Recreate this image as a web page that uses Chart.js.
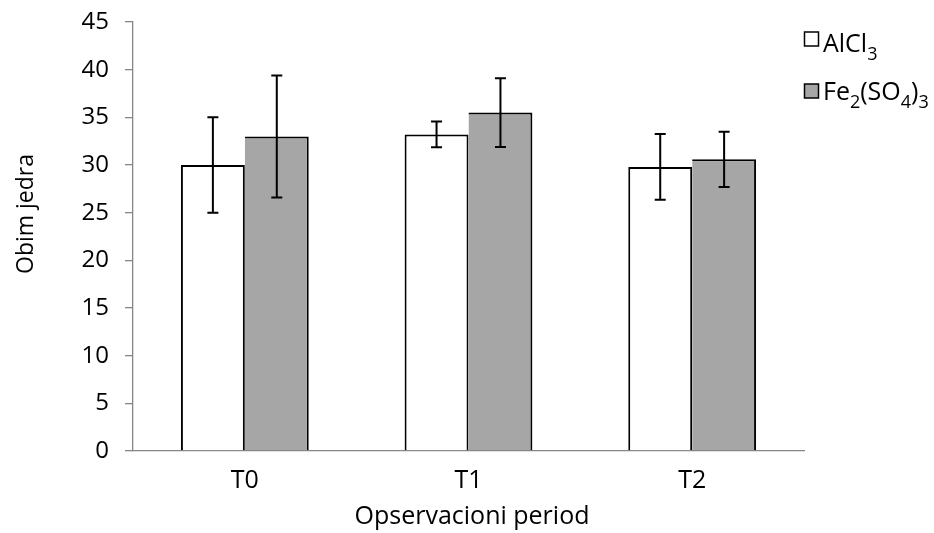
<!DOCTYPE html>
<html>
<head>
<meta charset="utf-8">
<script src="https://cdn.jsdelivr.net/npm/chart.js@4.4.1/dist/chart.umd.min.js"></script>
<style>
html, body { margin: 0; padding: 0; background: #fff; }
</style>
</head>
<body>
<canvas id="barChart" width="934" height="533"></canvas>
<script>
/** datos */
const categories = ["T0", "T1", "T2"];
const seriesNames = ["AlCl{3}", "Fe{2}(SO{4}){3}"];
const alcl3 = [30.0, 33.2, 29.8];
const alcl3_err = [5.0, 1.35, 3.45];
const fe2so43 = [33.0, 35.5, 30.6];
const fe2so43_err = [6.4, 3.6, 2.9];
const y_min = 0, y_max = 45, y_step = 5;
const y_title = "Obim jedra";
const x_title = "Opservacioni period";

const FONT = '"Open Sans", "DejaVu Sans", sans-serif';
const AXIS_GRAY = "#868686";

/** texto con subindices: lo que va entre llaves baja */
function drawRich(ctx, str, x, y, size) {
  let parts = str.split(/(\{[^}]*\})/).filter(p => p.length);
  parts.forEach(function (p) {
    let sub = p[0] === "{";
    let t = sub ? p.slice(1, -1) : p;
    ctx.font = (sub ? Math.round(size * 0.7) : size) + "px " + FONT;
    ctx.fillText(t, x, sub ? y + size * 0.32 : y);
    x += ctx.measureText(t).width;
  });
}

/** barras de error */
const errorBars = {
  id: "errorBars",
  afterDatasetsDraw: function (chart) {
    const ctx = chart.ctx;
    const yScale = chart.scales.y;
    chart.data.datasets.forEach(function (dataset, i) {
      const meta = chart.getDatasetMeta(i);
      meta.data.forEach(function (bar, j) {
        const top = yScale.getPixelForValue(dataset.data[j] + dataset.errors[j]);
        const bot = yScale.getPixelForValue(dataset.data[j] - dataset.errors[j]);
        ctx.save();
        ctx.strokeStyle = "#000";
        ctx.lineWidth = 2;
        ctx.beginPath();
        ctx.moveTo(bar.x, top); ctx.lineTo(bar.x, bot);
        ctx.moveTo(bar.x - 5.5, top); ctx.lineTo(bar.x + 5.5, top);
        ctx.moveTo(bar.x - 5.5, bot); ctx.lineTo(bar.x + 5.5, bot);
        ctx.stroke();
        ctx.restore();
      });
    });
  }
};

/** titulos de ejes y leyenda */
const extras = {
  id: "extras",
  afterDraw: function (chart) {
    const ctx = chart.ctx;
    ctx.save();
    ctx.fillStyle = "#000";
    ctx.textBaseline = "alphabetic";

    ctx.textAlign = "center";
    ctx.font = "25px " + FONT;
    ctx.fillText(x_title, 472, 524);

    ctx.save();
    ctx.translate(33, 214);
    ctx.rotate(-Math.PI / 2);
    ctx.font = "23px " + FONT;
    ctx.fillText(y_title, 0, 0);
    ctx.restore();

    ctx.textAlign = "left";
    const boxY = [32, 84];
    const baseY = [52, 100];
    chart.data.datasets.forEach(function (ds, i) {
      ctx.fillStyle = ds.backgroundColor;
      ctx.fillRect(804.5, boxY[i], 14, 14);
      ctx.strokeStyle = "#000";
      ctx.lineWidth = 1.5;
      ctx.strokeRect(804.5, boxY[i], 14, 14);
      ctx.fillStyle = "#000";
      drawRich(ctx, seriesNames[i], 823, baseY[i], 25);
    });
    ctx.restore();
  }
};

var ctx = document.getElementById("barChart").getContext("2d");
var barChart = new Chart(ctx, {
  type: "bar",
  data: {
    labels: categories,
    datasets: [{
      label: seriesNames[0].replace(/[{}]/g, ""),
      data: alcl3,
      errors: alcl3_err,
      backgroundColor: "#ffffff",
      borderColor: "#000000",
      borderWidth: 2,
      borderSkipped: "start"
    }, {
      label: seriesNames[1].replace(/[{}]/g, ""),
      data: fe2so43,
      errors: fe2so43_err,
      backgroundColor: "#a6a6a6",
      borderColor: "#000000",
      borderWidth: { top: 2, right: 2, left: 0, bottom: 0 },
      borderSkipped: "start"
    }]
  },
  options: {
    responsive: false,
    animation: false,
    layout: { padding: { top: 22, right: 130, left: 0, bottom: 0 } },
    datasets: { bar: { categoryPercentage: 0.5714, barPercentage: 1.0 } },
    plugins: {
      legend: { display: false },
      tooltip: { enabled: false }
    },
    scales: {
      x: {
        grid: { display: false, drawTicks: false },
        border: { color: AXIS_GRAY, width: 1.3 },
        ticks: { color: "#000", font: { family: FONT, size: 25 }, padding: 15 },
        afterFit: function (s) { s.height = 82; s.paddingLeft = 0; s.paddingRight = 0; }
      },
      y: {
        min: y_min,
        max: y_max,
        ticks: { stepSize: y_step, color: "#000", font: { family: FONT, size: 24 }, padding: 16 },
        grid: { drawOnChartArea: false, drawTicks: true, tickLength: 8, color: AXIS_GRAY, lineWidth: 1.3 },
        border: { color: AXIS_GRAY, width: 1.3 },
        afterFit: function (s) { s.width = 133; s.paddingTop = 0; s.paddingBottom = 0; }
      }
    }
  },
  plugins: [errorBars, extras]
});
</script>
</body>
</html>
